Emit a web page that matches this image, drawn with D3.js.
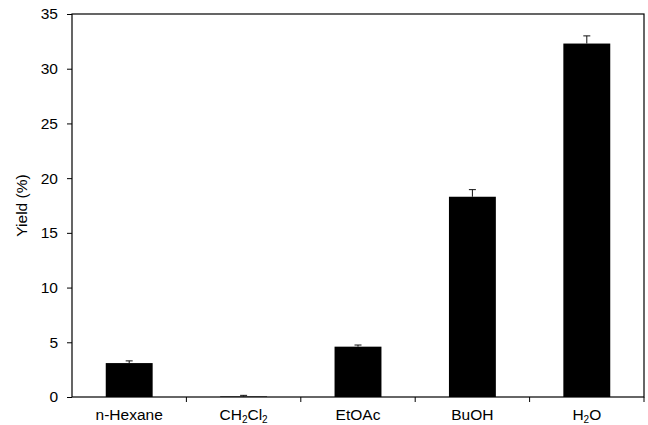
<!DOCTYPE html>
<html lang="en">
<head>
<meta charset="UTF-8">
<title>Yield</title>
<style>
  body { margin: 0; background: #fff; }
  text { font-family: "Liberation Sans", Arial, sans-serif; }
</style>
</head>
<body>
<div id="chart"></div>
<script src="https://d3js.org/d3.v7.min.js"></script>
<script>
// solvent fractions, label parts: [text, isSubscript]
const categories = ["n-Hexane", "CH2Cl2", "EtOAc", "BuOH", "H2O"];
const labelParts = [
  [["n-Hexane", false]],
  [["CH", false], ["2", true], ["Cl", false], ["2", true]],
  [["EtOAc", false]],
  [["BuOH", false]],
  [["H", false], ["2", true], ["O", false]]
];
const yieldValues = [3.1, 0.05, 4.6, 18.3, 32.3];
const yieldErrors = [0.2, 0.1, 0.15, 0.65, 0.7];
const yTicks = [0, 5, 10, 15, 20, 25, 30, 35];

const W = 648, H = 425;
const margin = {top: 14, right: 4, bottom: 28, left: 72};
const w = W - margin.left - margin.right;
const h = H - margin.top - margin.bottom;
const fs = 15.5;

const svg = d3.select("#chart").append("svg")
  .attr("width", W).attr("height", H);
const g = svg.append("g")
  .attr("transform", "translate(" + margin.left + "," + margin.top + ")");

const x = d3.scaleBand().domain(categories).range([0, w]);
const y = d3.scaleLinear().domain([0, 35]).range([h, 0]);
const barW = x.bandwidth() * 0.41;

// bars
g.selectAll(".bar").data(categories).enter().append("rect")
  .attr("x", d => x(d) + x.bandwidth() / 2 - barW / 2)
  .attr("y", (d, i) => y(yieldValues[i]))
  .attr("width", barW)
  .attr("height", (d, i) => h - y(yieldValues[i]))
  .attr("fill", "#000");

// error bars (upper half only, as drawn)
const err = g.selectAll(".err").data(categories).enter().append("g")
  .attr("stroke", "#111").attr("stroke-width", 1);
err.append("line")
  .attr("x1", d => x(d) + x.bandwidth() / 2)
  .attr("x2", d => x(d) + x.bandwidth() / 2)
  .attr("y1", (d, i) => y(yieldValues[i]))
  .attr("y2", (d, i) => y(yieldValues[i] + yieldErrors[i]));
err.append("line")
  .attr("x1", d => x(d) + x.bandwidth() / 2 - 3.5)
  .attr("x2", d => x(d) + x.bandwidth() / 2 + 3.5)
  .attr("y1", (d, i) => y(yieldValues[i] + yieldErrors[i]))
  .attr("y2", (d, i) => y(yieldValues[i] + yieldErrors[i]));

// frame
g.append("rect")
  .attr("x", 0).attr("y", 0).attr("width", w).attr("height", h)
  .attr("fill", "none").attr("stroke", "#000").attr("stroke-width", 1.2);

// y axis
const yAxis = g.append("g")
  .call(d3.axisLeft(y).tickValues(yTicks).tickSize(5).tickPadding(9));
yAxis.select(".domain").remove();
yAxis.selectAll("text").attr("font-size", fs).attr("fill", "#000")
  .style("font-family", "'Liberation Sans', Arial, sans-serif");

// x axis: ticks at category boundaries
const bounds = categories.map(d => x(d) + x.bandwidth());
g.selectAll(".xtick").data(bounds).enter().append("line")
  .attr("x1", d => d).attr("x2", d => d)
  .attr("y1", h).attr("y2", h + 5)
  .attr("stroke", "#000");

const xl = g.selectAll(".xlab").data(categories).enter().append("text")
  .attr("x", d => x(d) + x.bandwidth() / 2)
  .attr("y", h + 23)
  .attr("text-anchor", "middle")
  .attr("font-size", fs)
  .attr("fill", "#000");
xl.each(function(d, i) {
  const t = d3.select(this);
  labelParts[i].forEach((p, j) => {
    const s = t.append("tspan").text(p[0]);
    if (p[1]) s.attr("font-size", 10).attr("dy", 2.5);
    else if (j > 0) s.attr("dy", -2.5);
  });
});

// y label
svg.append("text")
  .attr("transform", "translate(27," + (margin.top + h / 2) + ") rotate(-90)")
  .attr("text-anchor", "middle")
  .attr("font-size", fs)
  .text("Yield (%)");
</script>
</body>
</html>
